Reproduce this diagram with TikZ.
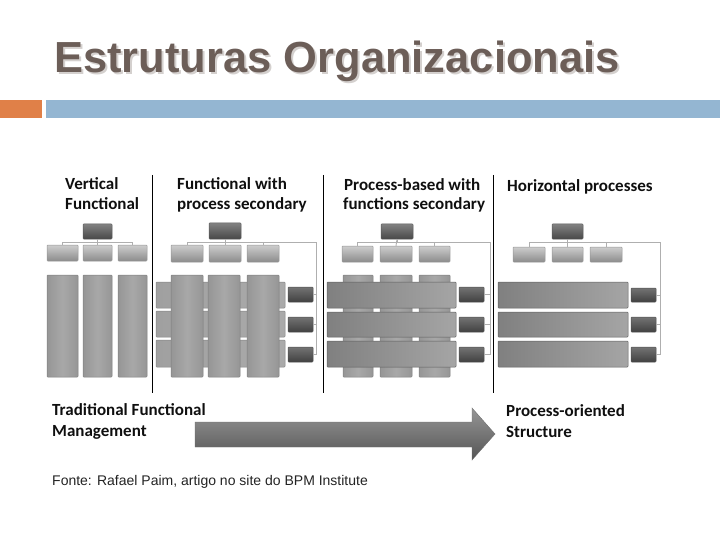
\documentclass[tikz,border=0pt]{standalone}
\usepackage{fontspec}
\setmainfont{Liberation Sans}
\newfontfamily\lblfont{Carlito}
\definecolor{titlec}{RGB}{108,94,88}
\definecolor{shadowc}{RGB}{212,208,206}
\definecolor{orangebar}{RGB}{224,128,72}
\definecolor{bluebar}{RGB}{148,182,210}
\definecolor{conncol}{RGB}{175,175,175}
\newcommand\mkbox[6]{\node[#2,minimum width={#5-#3},minimum height={#6-#4}] (#1) at ({(#3+#5)/2},{(#4+#6)/2}) {};}
\newcommand\shadowtext[1]{\rlap{\kern2pt\raisebox{-2pt}{\textcolor{shadowc}{#1}}}#1}
\tikzset{
  basebox/.style={inner sep=0pt,outer sep=0pt,rectangle,rounded corners=0.8pt,line width=0.5pt},
  headbox/.style={basebox,top color={rgb,255:red,130;green,130;blue,130},bottom color={rgb,255:red,72;green,72;blue,72},draw={rgb,255:red,90;green,90;blue,90}},
  subbox/.style={basebox,top color={rgb,255:red,205;green,205;blue,205},bottom color={rgb,255:red,140;green,140;blue,140},draw={rgb,255:red,150;green,150;blue,150}},
  colbox/.style={basebox,left color={rgb,255:red,150;green,150;blue,150},right color={rgb,255:red,150;green,150;blue,150},middle color={rgb,255:red,168;green,168;blue,168},draw={rgb,255:red,125;green,125;blue,125}},
  rowbox/.style={basebox,left color={rgb,255:red,128;green,128;blue,128},right color={rgb,255:red,165;green,165;blue,165},draw={rgb,255:red,95;green,95;blue,95}},
  rowlight/.style={basebox,left color={rgb,255:red,160;green,160;blue,160},right color={rgb,255:red,170;green,170;blue,170},draw={rgb,255:red,130;green,130;blue,130}},
  smallbox/.style={basebox,top color={rgb,255:red,115;green,115;blue,115},bottom color={rgb,255:red,65;green,65;blue,65},draw={rgb,255:red,80;green,80;blue,80}},
  conn/.style={draw=conncol,line width=0.9pt},
  divider/.style={draw=black,line width=1.8pt},
  lbl/.style={inner sep=0pt,anchor=base west,text={rgb,255:red,15;green,15;blue,15},font=\lblfont\bfseries\fontsize{17}{20}\selectfont},
}
\begin{document}
\begin{tikzpicture}[x=1pt,y=-1pt]
\useasboundingbox (0,0) rectangle (720,540);
% title
\node[inner sep=0pt,anchor=base west,text=titlec,font=\bfseries\fontsize{43.5}{50}\selectfont] (title) at (54,73) {\shadowtext{Estruturas Organizacionais}};
\fill[orangebar] (0,100) rectangle (42,118);
\fill[bluebar] (46,100) rectangle (720,118);

% dividers
\draw[divider] (152.5,175) -- (152.5,393);
\draw[divider] (323.5,175) -- (323.5,393);
\draw[divider] (493.5,175) -- (493.5,393);

% labels
\node[lbl] (l1a) at (65,190) {Vertical};
\node[lbl] (l1b) at (65,210) {Functional};
\node[lbl] (l2a) at (177,190) {Functional with};
\node[lbl] (l2b) at (177,210) {process secondary};
\node[lbl] (l3a) at (344,191) {Process-based with};
\node[lbl] (l3b) at (343,210) {functions secondary};
\node[lbl] (l4a) at (507,192) {Horizontal processes};
\node[lbl] (l5a) at (52,415) {Traditional Functional};
\node[lbl] (l5b) at (52,436) {Management};
\node[lbl] (l6a) at (506,416) {Process-oriented};
\node[lbl] (l6b) at (506,437) {Structure};

% ---------- panel 1
\mkbox{t1}{headbox}{83}{224}{112}{239}
\mkbox{a1}{subbox}{47}{245}{78}{261}
\mkbox{b1}{subbox}{83}{245}{112}{261}
\mkbox{c1}{subbox}{118}{245}{147}{261}
\mkbox{p1a}{colbox}{47}{275}{78}{377}
\mkbox{p1b}{colbox}{83}{275}{112}{377}
\mkbox{p1c}{colbox}{118}{275}{147}{377}
\draw[conn] (t1.south) -- ++(0,3) -| (a1.north);
\draw[conn] (t1.south) -- (b1.north);
\draw[conn] (t1.south) -- ++(0,3) -| (c1.north);

% ---------- panel 2
\mkbox{t2}{headbox}{209}{223}{241}{239}
\mkbox{a2}{subbox}{171}{245}{203}{262}
\mkbox{b2}{subbox}{209}{245}{241}{262}
\mkbox{c2}{subbox}{247}{245}{279}{262}
\mkbox{r2a}{rowlight}{156}{282}{285}{308}
\mkbox{r2b}{rowlight}{156}{311}{285}{337}
\mkbox{r2c}{rowlight}{156}{340}{285}{367}
\mkbox{p2a}{colbox}{171}{275}{203}{377}
\mkbox{p2b}{colbox}{208}{275}{240}{377}
\mkbox{p2c}{colbox}{247}{275}{279}{377}
\mkbox{s2a}{smallbox}{288}{287}{313}{302}
\mkbox{s2b}{smallbox}{288}{317}{313}{332}
\mkbox{s2c}{smallbox}{288}{347}{313}{362}
\coordinate (rail2) at (316,242);
\draw[conn] (t2.south) -- ++(0,3) -| (a2.north);
\draw[conn] (t2.south) -- (b2.north);
\draw[conn] (t2.south) -- ++(0,3) -| (c2.north);
\draw[conn] (t2.south) -- ++(0,3) -- (rail2) |- (s2c.east);
\draw[conn] (rail2) |- (s2a.east);
\draw[conn] (rail2) |- (s2b.east);

% ---------- panel 3
\mkbox{t3}{headbox}{381}{224}{413}{239}
\mkbox{a3}{subbox}{342}{246}{373}{262}
\mkbox{b3}{subbox}{380}{246}{412}{262}
\mkbox{c3}{subbox}{419}{246}{450}{262}
\mkbox{p3a}{colbox}{343}{275}{373}{377}
\mkbox{p3b}{colbox}{380}{275}{412}{377}
\mkbox{p3c}{colbox}{419}{275}{450}{377}
\mkbox{r3a}{rowbox}{327}{282}{456}{308}
\mkbox{r3b}{rowbox}{327}{312}{456}{337}
\mkbox{r3c}{rowbox}{327}{341}{456}{367}
\mkbox{s3a}{smallbox}{459}{287}{484}{302}
\mkbox{s3b}{smallbox}{459}{317}{484}{332}
\mkbox{s3c}{smallbox}{459}{347}{484}{362}
\coordinate (rail3) at (490,242);
\draw[conn] (t3.south) -- ++(0,3) -| (a3.north);
\draw[conn] (t3.south) -- (b3.north);
\draw[conn] (t3.south) -- ++(0,3) -| (c3.north);
\draw[conn] (t3.south) -- ++(0,3) -- (rail3) |- (s3c.east);
\draw[conn] (rail3) |- (s3a.east);
\draw[conn] (rail3) |- (s3b.east);

% ---------- panel 4
\mkbox{t4}{headbox}{552}{224}{583}{239}
\mkbox{a4}{subbox}{513}{247}{545}{262}
\mkbox{b4}{subbox}{552}{247}{583}{262}
\mkbox{c4}{subbox}{590}{247}{622}{262}
\mkbox{r4a}{rowbox}{498}{282}{628}{308}
\mkbox{r4b}{rowbox}{498}{312}{628}{337}
\mkbox{r4c}{rowbox}{498}{341}{628}{367}
\mkbox{s4a}{smallbox}{631}{288}{656}{302}
\mkbox{s4b}{smallbox}{631}{317}{656}{332}
\mkbox{s4c}{smallbox}{631}{347}{656}{362}
\coordinate (rail4) at (660,242);
\draw[conn] (t4.south) -- ++(0,3) -| (a4.north);
\draw[conn] (t4.south) -- (b4.north);
\draw[conn] (t4.south) -- ++(0,3) -| (c4.north);
\draw[conn] (t4.south) -- ++(0,3) -- (rail4) |- (s4c.east);
\draw[conn] (rail4) |- (s4a.east);
\draw[conn] (rail4) |- (s4b.east);

% big arrow
\shade[top color={rgb,255:red,150;green,150;blue,150},bottom color={rgb,255:red,85;green,85;blue,85},draw={rgb,255:red,110;green,110;blue,110},line width=0.4pt]
  (195,422) -- (472,422) -- (472,408) -- (495,434) -- (472,460) -- (472,447) -- (195,447) -- cycle;

% source
\node[inner sep=0pt,anchor=base west,text={rgb,255:red,35;green,35;blue,35},font=\fontsize{14}{16}\selectfont] (fonte) at (52,485) {Fonte: Rafael Paim, artigo no site do BPM Institute};
\end{tikzpicture}
\end{document}
